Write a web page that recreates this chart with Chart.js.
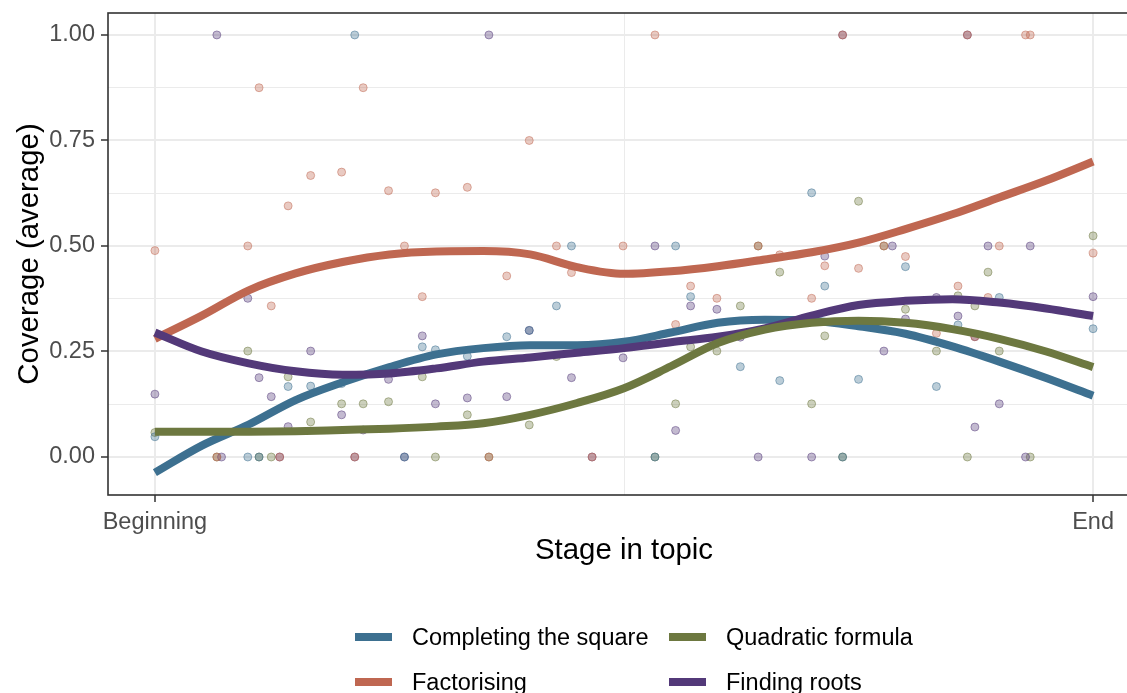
<!DOCTYPE html>
<html>
<head>
<meta charset="utf-8">
<title>Coverage by stage in topic</title>
<script src="https://cdn.jsdelivr.net/npm/chart.js@4.4.1/dist/chart.umd.min.js"></script>
<style>
  html, body { margin: 0; padding: 0; background: #fff; overflow: hidden; }
  #wrap { position: relative; width: 1127px; height: 693px; overflow: hidden; }
  #chart { position: absolute; left: 0; top: 0; }
  .key {
    position: absolute;
    display: flex;
    align-items: center;
    height: 28px;
    font-family: "Liberation Sans", Arial, sans-serif;
    font-size: 23.5px;
    color: #000;
    white-space: nowrap;
  }
  .key .swatch { display: inline-block; width: 37px; height: 8px; margin-right: 20px; }
</style>
</head>
<body>
<div id="wrap">
  <canvas id="chart" width="1175" height="693"></canvas>
  <div id="legend"></div>
</div>
<script>
  "use strict";

  // series
  const seriesNames = ["Completing the square", "Factorising", "Finding roots", "Quadratic formula"];
  const seriesColors = ["#3D7090", "#BF6751", "#533979", "#6D7840"];

  // axis breaks and labels
  const xBreaks = [0, 1];
  const xMinorBreaks = [0.5];
  const xTickLabels = ["Beginning", "End"];
  const yBreaks = [0, 0.25, 0.5, 0.75, 1];
  const yMinorBreaks = [0.125, 0.375, 0.625, 0.875];
  const yTickLabels = ["0.00", "0.25", "0.50", "0.75", "1.00"];

  // smoothed trend, sampled along the stage axis
  const fitX = [0, 0.05, 0.1, 0.15, 0.2, 0.25, 0.3, 0.35, 0.4, 0.45, 0.5,
                0.55, 0.6, 0.65, 0.7, 0.75, 0.8, 0.85, 0.9, 0.95, 1];
  const squareFit = [-0.037, 0.027, 0.077, 0.135, 0.177, 0.213, 0.243, 0.258, 0.265, 0.265, 0.273,
                     0.295, 0.318, 0.325, 0.323, 0.31, 0.292, 0.262, 0.226, 0.187, 0.145];
  const factorFit = [0.28, 0.335, 0.395, 0.435, 0.462, 0.48, 0.487, 0.488, 0.48, 0.45, 0.434,
                     0.44, 0.452, 0.468, 0.485, 0.508, 0.54, 0.575, 0.615, 0.655, 0.70];
  const rootsFit = [0.295, 0.25, 0.222, 0.203, 0.195, 0.198, 0.21, 0.226, 0.236, 0.247, 0.258,
                    0.272, 0.285, 0.305, 0.335, 0.36, 0.37, 0.374, 0.366, 0.352, 0.334];
  const formulaFit = [0.06, 0.06, 0.06, 0.061, 0.064, 0.067, 0.072, 0.08, 0.1, 0.128, 0.163,
                      0.215, 0.27, 0.302, 0.318, 0.323, 0.318, 0.303, 0.28, 0.25, 0.213];

  // observed points [stage, coverage]
  const squarePoints = [
    [0, 0.048], [0.213, 1], [0.444, 0.5], [0.555, 0.5], [0.7, 0.626], [0.8, 0.451],
    [0.714, 0.405], [0.9, 0.378], [0.856, 0.313], [1, 0.304], [0.666, 0.181], [0.75, 0.184],
    [0.833, 0.167], [0.571, 0.38], [0.428, 0.358], [0.375, 0.285], [0.299, 0.254], [0.333, 0.239],
    [0.624, 0.214], [0.285, 0.261], [0.142, 0.167], [0.166, 0.168], [0.199, 0.174], [0.099, 0],
    [0.111, 0], [0.266, 0], [0.533, 0], [0.733, 0], [0.399, 0.3]
  ];
  const factorPoints = [
    [0, 0.489], [0.111, 0.875], [0.222, 0.875], [0.166, 0.667], [0.199, 0.675], [0.142, 0.595],
    [0.249, 0.631], [0.299, 0.626], [0.333, 0.639], [0.099, 0.5], [0.266, 0.5], [0.533, 1],
    [0.399, 0.75], [0.428, 0.5], [0.499, 0.5], [0.643, 0.5], [0.733, 1], [0.866, 1], [0.928, 1],
    [0.933, 1], [1, 0.483], [0.777, 0.5], [0.9, 0.5], [0.666, 0.479], [0.8, 0.475], [0.714, 0.453],
    [0.75, 0.447], [0.856, 0.405], [0.7, 0.376], [0.888, 0.378], [0.833, 0.293], [0.874, 0.285],
    [0.375, 0.429], [0.444, 0.437], [0.571, 0.405], [0.599, 0.376], [0.555, 0.314], [0.124, 0.358],
    [0.285, 0.38], [0.066, 0], [0.133, 0], [0.213, 0], [0.356, 0], [0.466, 0]
  ];
  const rootsPoints = [
    [0, 0.149], [0.066, 1], [0.356, 1], [0.733, 1], [0.866, 1], [0.533, 0.5], [0.786, 0.5],
    [0.888, 0.5], [0.933, 0.5], [0.714, 0.476], [1, 0.38], [0.833, 0.378], [0.8, 0.327],
    [0.856, 0.334], [0.874, 0.285], [0.777, 0.251], [0.9, 0.126], [0.874, 0.071], [0.571, 0.358],
    [0.599, 0.35], [0.399, 0.3], [0.499, 0.235], [0.624, 0.284], [0.444, 0.188], [0.299, 0.126],
    [0.333, 0.14], [0.375, 0.143], [0.555, 0.063], [0.099, 0.376], [0.285, 0.287], [0.166, 0.251],
    [0.111, 0.188], [0.249, 0.184], [0.124, 0.143], [0.199, 0.1], [0.142, 0.072], [0.222, 0.064],
    [0.071, 0], [0.133, 0], [0.213, 0], [0.266, 0], [0.466, 0], [0.643, 0], [0.7, 0], [0.928, 0]
  ];
  const formulaPoints = [
    [0, 0.058], [0.099, 0.251], [0.142, 0.19], [0.285, 0.19], [0.199, 0.126], [0.222, 0.126],
    [0.249, 0.131], [0.166, 0.083], [0.333, 0.1], [0.399, 0.076], [0.428, 0.238], [0.555, 0.126],
    [0.571, 0.261], [0.599, 0.251], [0.624, 0.358], [0.643, 0.5], [0.666, 0.438], [0.75, 0.606],
    [1, 0.524], [0.777, 0.5], [0.888, 0.438], [0.856, 0.382], [0.8, 0.35], [0.874, 0.358],
    [0.714, 0.287], [0.833, 0.251], [0.9, 0.251], [0.7, 0.126], [0.066, 0], [0.111, 0], [0.124, 0],
    [0.299, 0], [0.356, 0], [0.533, 0], [0.733, 0], [0.866, 0], [0.933, 0]
  ];

  const fits = [squareFit, factorFit, rootsFit, formulaFit];
  const points = [squarePoints, factorPoints, rootsPoints, formulaPoints];
  // legend is laid out in two columns, ggplot style
  const legendOrder = [0, 3, 1, 2];

  function rgba(hex, a) {
    const n = parseInt(hex.slice(1), 16);
    return "rgba(" + (n >> 16) + "," + ((n >> 8) & 255) + "," + (n & 255) + "," + a + ")";
  }

  const font = "'Liberation Sans', Arial, sans-serif";
  const datasets = [];

  points.forEach((pts, i) => {
    datasets.push({
      type: "scatter",
      label: seriesNames[i] + " (points)",
      data: pts.map((p) => ({ x: p[0], y: p[1] })),
      backgroundColor: rgba(seriesColors[i], 0.35),
      borderColor: rgba(seriesColors[i], 0.5),
      borderWidth: 1,
      pointRadius: 4,
      order: 20 + i,
    });
  });

  fits.forEach((fit, i) => {
    datasets.push({
      type: "line",
      label: seriesNames[i],
      data: fitX.map((x, k) => ({ x: x, y: fit[k] })),
      borderColor: seriesColors[i],
      backgroundColor: seriesColors[i],
      borderWidth: 8,
      borderCapStyle: "butt",
      borderJoinStyle: "round",
      pointRadius: 0,
      fill: false,
      cubicInterpolationMode: "monotone",
      order: 10 - i,
    });
  });

  const panelBorder = {
    id: "panelBorder",
    afterDatasetsDraw(chart) {
      const { ctx, chartArea: a } = chart;
      ctx.save();
      ctx.strokeStyle = "#333333";
      ctx.lineWidth = 1.6;
      ctx.strokeRect(a.left, a.top, a.right - a.left, a.bottom - a.top);
      ctx.restore();
    },
  };

  const isMajor = (list, v) => list.some((b) => Math.abs(b - v) < 1e-9);

  new Chart(document.getElementById("chart"), {
    type: "scatter",
    data: { datasets },
    plugins: [panelBorder],
    options: {
      responsive: false,
      animation: false,
      layout: { padding: { left: 12.4, top: 13, right: 35, bottom: 124.4 } },
      plugins: {
        legend: { display: false },
        tooltip: { enabled: false },
      },
      scales: {
        x: {
          type: "linear",
          min: -0.05,
          max: 1.05,
          afterBuildTicks(scale) {
            scale.ticks = xBreaks.concat(xMinorBreaks).sort().map((v) => ({ value: v }));
          },
          afterFit(scale) {
            scale.height = 73.6;
            scale.paddingLeft = 0;
            scale.paddingRight = 0;
          },
          border: { display: false },
          grid: {
            color: "#EBEBEB",
            lineWidth: (c) => (isMajor(xBreaks, c.tick.value) ? 2 : 1),
            tickLength: 7,
            tickWidth: 1.5,
            tickColor: (c) => (isMajor(xBreaks, c.tick.value) ? "#333333" : "rgba(0,0,0,0)"),
          },
          ticks: {
            autoSkip: false,
            maxRotation: 0,
            padding: 6,
            color: "#4D4D4D",
            font: { family: font, size: 23.5 },
            callback(v) {
              const k = xBreaks.indexOf(v);
              return k >= 0 ? xTickLabels[k] : "";
            },
          },
          title: {
            display: true,
            text: "Stage in topic",
            color: "#000",
            padding: 0,
            font: { family: font, size: 29.4 },
          },
        },
        y: {
          type: "linear",
          min: -0.09,
          max: 1.052,
          afterBuildTicks(scale) {
            scale.ticks = yBreaks.concat(yMinorBreaks).sort().map((v) => ({ value: v }));
          },
          afterFit(scale) {
            scale.width = 108 - 12.4;
            scale.paddingTop = 0;
            scale.paddingBottom = 0;
          },
          border: { display: false },
          grid: {
            color: "#EBEBEB",
            lineWidth: (c) => (isMajor(yBreaks, c.tick.value) ? 2 : 1),
            tickLength: 7,
            tickWidth: 1.5,
            tickColor: (c) => (isMajor(yBreaks, c.tick.value) ? "#333333" : "rgba(0,0,0,0)"),
          },
          ticks: {
            autoSkip: false,
            padding: 6,
            color: "#4D4D4D",
            font: { family: font, size: 23.5 },
            callback(v) {
              const k = yBreaks.findIndex((b) => Math.abs(b - v) < 1e-9);
              return k >= 0 ? yTickLabels[k] : "";
            },
          },
          title: {
            display: true,
            text: "Coverage (average)",
            color: "#000",
            padding: 0,
            font: { family: font, size: 29.4 },
          },
        },
      },
    },
  });

  // two-column legend under the panel
  const legend = document.getElementById("legend");
  const colLeft = [355, 669];
  const rowTop = [623, 668];
  legendOrder.forEach((s, k) => {
    const item = document.createElement("div");
    item.className = "key";
    item.style.left = colLeft[k % 2] + "px";
    item.style.top = rowTop[Math.floor(k / 2)] + "px";
    const sw = document.createElement("span");
    sw.className = "swatch";
    sw.style.background = seriesColors[s];
    const label = document.createElement("span");
    label.textContent = seriesNames[s];
    item.appendChild(sw);
    item.appendChild(label);
    legend.appendChild(item);
  });
</script>
</body>
</html>
